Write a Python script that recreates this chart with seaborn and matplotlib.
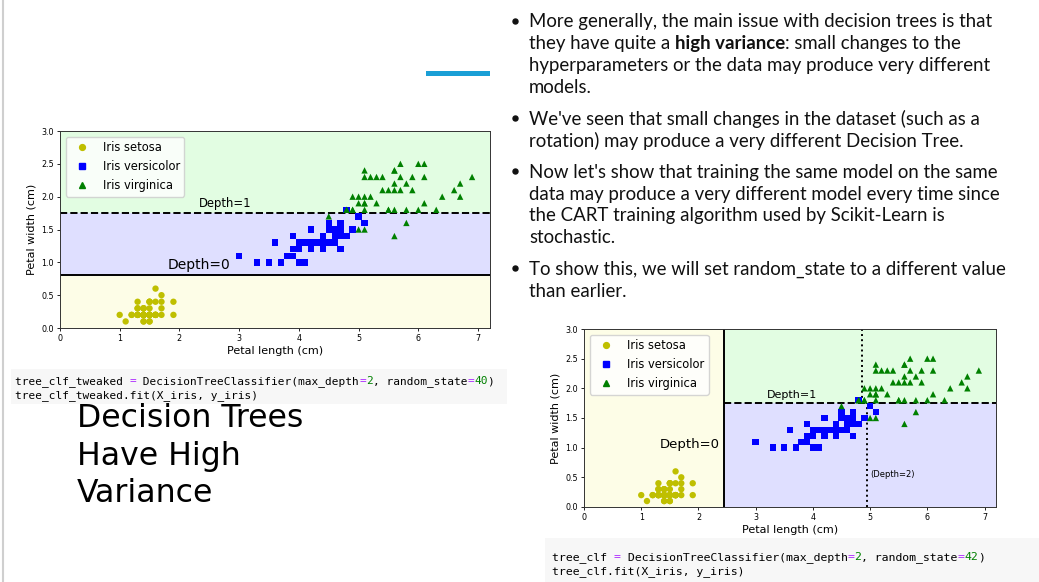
import matplotlib
matplotlib.use("Agg")
import matplotlib.pyplot as plt
from matplotlib.lines import Line2D
from matplotlib.patches import Rectangle
import pandas as pd
import seaborn as sns

# %% iris petal measurements (cm)
setosa_length = [1.4, 1.4, 1.3, 1.5, 1.4, 1.7, 1.4, 1.5, 1.4, 1.5,
                 1.5, 1.6, 1.4, 1.1, 1.2, 1.5, 1.3, 1.4, 1.7, 1.5,
                 1.7, 1.5, 1.0, 1.7, 1.9, 1.6, 1.6, 1.5, 1.4, 1.6,
                 1.6, 1.5, 1.5, 1.4, 1.5, 1.2, 1.3, 1.4, 1.3, 1.5,
                 1.3, 1.3, 1.3, 1.6, 1.9, 1.4, 1.6, 1.4, 1.5, 1.4]
setosa_width = [0.2, 0.2, 0.2, 0.2, 0.2, 0.4, 0.3, 0.2, 0.2, 0.1,
                0.2, 0.2, 0.1, 0.1, 0.2, 0.4, 0.4, 0.3, 0.3, 0.3,
                0.2, 0.4, 0.2, 0.5, 0.2, 0.2, 0.4, 0.2, 0.2, 0.2,
                0.2, 0.4, 0.1, 0.2, 0.2, 0.2, 0.2, 0.1, 0.2, 0.2,
                0.3, 0.3, 0.2, 0.6, 0.4, 0.3, 0.2, 0.2, 0.2, 0.2]
versicolor_length = [4.7, 4.5, 4.9, 4.0, 4.6, 4.5, 4.7, 3.3, 4.6, 3.9,
                     3.5, 4.2, 4.0, 4.7, 3.6, 4.4, 4.5, 4.1, 4.5, 3.9,
                     4.8, 4.0, 4.9, 4.7, 4.3, 4.4, 4.8, 5.0, 4.5, 3.5,
                     3.8, 3.7, 3.9, 5.1, 4.5, 4.5, 4.7, 4.4, 4.1, 4.0,
                     4.4, 4.6, 4.0, 3.3, 4.2, 4.2, 4.2, 4.3, 3.0, 4.1]
versicolor_width = [1.4, 1.5, 1.5, 1.3, 1.5, 1.3, 1.6, 1.0, 1.3, 1.4,
                    1.0, 1.5, 1.0, 1.4, 1.3, 1.4, 1.5, 1.0, 1.5, 1.1,
                    1.8, 1.3, 1.5, 1.2, 1.3, 1.4, 1.4, 1.7, 1.5, 1.0,
                    1.1, 1.0, 1.2, 1.6, 1.5, 1.6, 1.5, 1.3, 1.3, 1.3,
                    1.2, 1.4, 1.2, 1.0, 1.3, 1.2, 1.3, 1.3, 1.1, 1.3]
virginica_length = [6.0, 5.1, 5.9, 5.6, 5.8, 6.6, 4.5, 6.3, 5.8, 6.1,
                    5.1, 5.3, 5.5, 5.0, 5.1, 5.3, 5.5, 6.7, 6.9, 5.0,
                    5.7, 4.9, 6.7, 4.9, 5.7, 6.0, 4.8, 4.9, 5.6, 5.8,
                    6.1, 6.4, 5.6, 5.1, 5.6, 6.1, 5.6, 5.5, 4.8, 5.4,
                    5.6, 5.1, 5.1, 5.9, 5.7, 5.2, 5.0, 5.2, 5.4, 5.1]
virginica_width = [2.5, 1.9, 2.1, 1.8, 2.2, 2.1, 1.7, 1.8, 1.8, 2.5,
                   2.0, 1.9, 2.1, 2.0, 2.4, 2.3, 1.8, 2.2, 2.3, 1.5,
                   2.3, 2.0, 2.0, 1.8, 2.1, 1.8, 1.8, 1.8, 2.1, 1.6,
                   1.9, 2.0, 2.2, 1.5, 1.4, 2.3, 2.4, 1.8, 1.8, 2.1,
                   2.4, 2.3, 1.9, 2.3, 2.5, 2.3, 1.9, 2.0, 2.3, 1.8]
species_names = ["Iris setosa", "Iris versicolor", "Iris virginica"]

# decision tree thresholds
tweaked_width_split = [0.8, 1.75]      # random_state=40
root_length_split = 2.45               # random_state=42
depth1_width_split = 1.75
depth2_length_split = [4.95, 4.85]

x_ticks = [0, 1, 2, 3, 4, 5, 6, 7]
y_ticks = [0.0, 0.5, 1.0, 1.5, 2.0, 2.5, 3.0]

bullets = [
    ["More generally, the main issue with decision trees is that",
     [("they have quite a ", "normal"), ("high variance", "bold"),
      (": small changes to the", "normal")],
     "hyperparameters or the data may produce very different",
     "models."],
    ["We've seen that small changes in the dataset (such as a",
     "rotation) may produce a very different Decision Tree."],
    ["Now let's show that training the same model on the same",
     "data may produce a very different model every time since",
     "the CART training algorithm used by Scikit-Learn is",
     "stochastic."],
    ["To show this, we will set random_state to a different value",
     "than earlier."],
]
bullet_baselines = [[27.5, 49.5, 71.2, 92.8], [125, 147],
                    [178, 200, 221.5, 243], [275, 297]]
title_lines = ["Decision Trees", "Have High", "Variance"]

code_left = [
    [("tree_clf_tweaked ", "k"), ("=", "op"),
     (" DecisionTreeClassifier(max_depth", "k"), ("=", "op"), ("2", "num"),
     (", random_state", "k"), ("=", "op"), ("40", "num"), (")", "k")],
    [("tree_clf_tweaked.fit(X_iris, y_iris)", "k")],
]
code_right = [
    [("tree_clf ", "k"), ("=", "op"),
     (" DecisionTreeClassifier(max_depth", "k"), ("=", "op"), ("2", "num"),
     (", random_state", "k"), ("=", "op"), ("42", "num"), (")", "k")],
    [("tree_clf.fit(X_iris, y_iris)", "k")],
]
code_colors = {"k": "#000000", "op": "#aa22ff", "num": "#008000"}

iris = pd.DataFrame({
    "length": setosa_length + versicolor_length + virginica_length,
    "width": setosa_width + versicolor_width + virginica_width,
    "species": [species_names[0]] * 50 + [species_names[1]] * 50
               + [species_names[2]] * 50,
})

palette = dict(zip(species_names, [(0.75, 0.75, 0.0), (0.0, 0.0, 1.0),
                                   (0.0, 0.5, 0.0)]))
markers = dict(zip(species_names, ["o", "s", "^"]))
region_colors = ["#fafab0", "#9898ff", "#a0faa0"]

# %% figure
fig = plt.figure(figsize=(10.39, 5.82), dpi=100)
bg = fig.add_axes([0, 0, 1, 1])
bg.set_xlim(0, 1039)
bg.set_ylim(582, 0)
bg.axis("off")
renderer = fig.canvas.get_renderer()

bg.plot([2.5, 2.5], [0, 582], color="#cfcfcf", lw=1.5)
bg.add_patch(Rectangle((426, 71), 64, 4.5, color="#1a9fd6", lw=0))


def text_width(s, **kw):
    # advance width of s, measured between two bars
    t = bg.text(0, 0, "|" + s + "|", **kw)
    w = t.get_window_extent(renderer).width
    t.set_text("||")
    w -= t.get_window_extent(renderer).width
    t.remove()
    return w


def rich_line(x, y, parts, **kw):
    for s, style in parts:
        bg.text(x, y, s, va="baseline", **kw, **style)
        x += text_width(s, **kw, **style)


def code_line(x, y, parts, size):
    # monospace: place each token by its character index
    kw = dict(family="DejaVu Sans Mono", fontsize=size)
    t = bg.text(0, 0, "x" * 100, **kw)
    cw = t.get_window_extent(renderer).width / 100
    t.remove()
    n = 0
    for s, c in parts:
        bg.text(x + n * cw, y, s, va="baseline", color=code_colors[c], **kw)
        n += len(s)


# bullets
btxt = dict(family="Lato", fontsize=13.45, color="#111111")
for lines, ys in zip(bullets, bullet_baselines):
    bg.plot(515, ys[0] - 7, "o", ms=3.6, color="#111111")
    for line, y in zip(lines, ys):
        if isinstance(line, str):
            bg.text(529, y, line, va="baseline", **btxt)
        else:
            rich_line(529, y, [(s, {"fontweight": w}) for s, w in line],
                      **btxt)

# title
for line, y in zip(title_lines, [427, 465, 502]):
    bg.text(77, y, line, va="baseline", family="DejaVu Sans",
            fontsize=22.7, color="black")

# code cells
bg.add_patch(Rectangle((11, 369), 496, 35, color="#f7f7f7", lw=0))
bg.add_patch(Rectangle((545, 538), 494, 44, color="#f7f7f7", lw=0))
for code, x0, ys, size in [(code_left, 15, [384, 398], 8.0),
                           (code_right, 552, [560, 574], 8.25)]:
    for parts, y in zip(code, ys):
        code_line(x0, y, parts, size)


def style_axes(ax):
    ax.set_xlim(0, 7.2)
    ax.set_ylim(0, 3)
    ax.set_xticks(x_ticks)
    ax.set_yticks(y_ticks)
    ax.set_yticklabels([f"{v:.1f}" for v in y_ticks])
    ax.tick_params(labelsize=5.8, length=2.5, width=0.6, pad=2)
    ax.set_xlabel("Petal length (cm)", fontsize=8, labelpad=2)
    ax.set_ylabel("Petal width (cm)", fontsize=8, labelpad=3)
    for sp in ax.spines.values():
        sp.set_linewidth(0.7)
        sp.set_color("#333333")
    handles = [Line2D([], [], ls="", marker=markers[n], color=palette[n],
                      markersize=4.2) for n in species_names]
    ax.legend(handles, species_names, loc="upper left", fontsize=8.3)


def scatter(ax):
    sns.scatterplot(data=iris, x="length", y="width", hue="species",
                    style="species", palette=palette, markers=markers,
                    s=21, linewidth=0, legend=False, ax=ax, zorder=3)


# %% left chart: random_state=40
ax1 = fig.add_axes([0.0577, 0.4364, 0.4139, 0.3385])
lo, hi = tweaked_width_split
ax1.axhspan(0, lo, color=region_colors[0], alpha=0.3, lw=0)
ax1.axhspan(lo, hi, color=region_colors[1], alpha=0.3, lw=0)
ax1.axhspan(hi, 3, color=region_colors[2], alpha=0.3, lw=0)
scatter(ax1)
ax1.axhline(lo, color="k", lw=1.4)
ax1.axhline(hi, color="k", lw=1.4, ls="--")
ax1.text(1.8, 0.9, "Depth=0", fontsize=10)
ax1.text(2.33, 1.84, "Depth=1", fontsize=8.4)
style_axes(ax1)

# %% right chart: random_state=42
ax2 = fig.add_axes([0.5621, 0.1289, 0.3965, 0.3058])
ax2.fill_between([0, root_length_split], 0, 3, color=region_colors[0],
                 alpha=0.3, lw=0)
ax2.fill_between([root_length_split, 7.2], 0, depth1_width_split,
                 color=region_colors[1], alpha=0.3, lw=0)
ax2.fill_between([root_length_split, 7.2], depth1_width_split, 3,
                 color=region_colors[2], alpha=0.3, lw=0)
scatter(ax2)
ax2.axvline(root_length_split, color="k", lw=1.4)
ax2.plot([root_length_split, 7.2], [depth1_width_split] * 2, "k--", lw=1.4)
ax2.plot([depth2_length_split[0]] * 2, [0, depth1_width_split], "k:", lw=1.4)
ax2.plot([depth2_length_split[1]] * 2, [depth1_width_split, 3], "k:", lw=1.4)
ax2.text(2.38, 1.0, "Depth=0", fontsize=9.5, ha="right")
ax2.text(3.2, 1.84, "Depth=1", fontsize=8)
ax2.text(5.0, 0.5, "(Depth=2)", fontsize=6)
style_axes(ax2)

fig.savefig("out.png", dpi=100)
